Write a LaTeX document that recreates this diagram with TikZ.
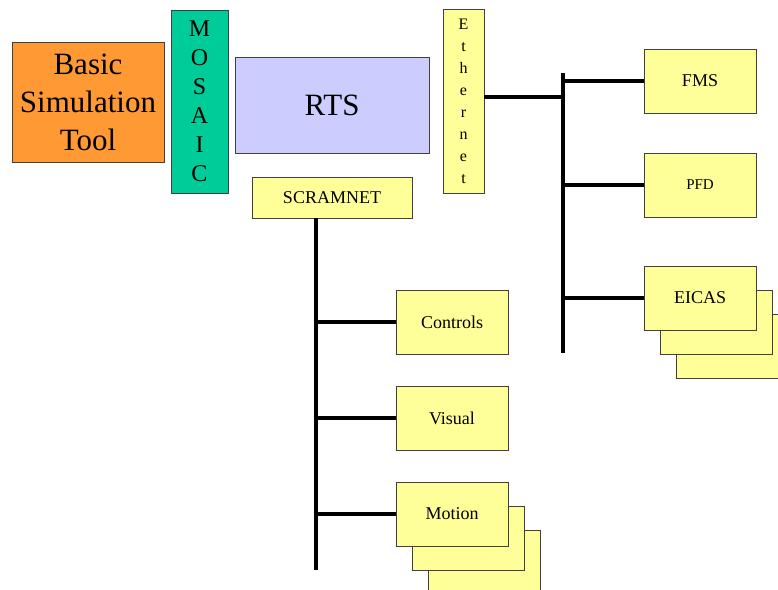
\documentclass[tikz,border=0pt]{standalone}
\usepackage{fontspec}
\setmainfont{Liberation Serif}
\usepackage{xcolor}
\usepackage{tikz}
\usetikzlibrary{positioning,calc}

\definecolor{simorange}{HTML}{FF9933}
\definecolor{mosaicgreen}{HTML}{00CC99}
\definecolor{rtsblue}{HTML}{CCCCFF}
\definecolor{unityellow}{HTML}{FFFF99}

\begin{document}
\begin{tikzpicture}[x=1pt, y=-1pt,
  box/.style={draw=black!75, line width=0.8pt, rectangle, inner sep=0pt, align=center},
  unit/.style={box, fill=unityellow, minimum width=112pt, minimum height=64pt, font=\fontsize{18}{20}\selectfont},
  bus/.style={line width=3.2pt, black}]
\useasboundingbox (0,0) rectangle (778,589);

% Simulation core
\node[box, fill=simorange, minimum width=152pt, minimum height=120pt, font=\fontsize{31}{38}\selectfont] (basic) at (88,102) {Basic\\Simulation\\Tool};
\node[box, fill=mosaicgreen, minimum width=57pt, minimum height=183pt, font=\fontsize{24}{29}\selectfont] (mosaic) at (199.5,101.5) {M\\O\\S\\A\\I\\C};
\node[box, fill=rtsblue, minimum width=194pt, minimum height=96pt, font=\fontsize{31}{36}\selectfont] (rts) at (332,105) {RTS};
\node[box, fill=unityellow, minimum width=41pt, minimum height=184pt, font=\fontsize{16}{22}\selectfont] (eth) at (463.5,101) {E\\t\\h\\e\\r\\n\\e\\t};
\node[box, fill=unityellow, minimum width=160pt, minimum height=41pt, font=\fontsize{18}{20}\selectfont] (scram) at (332,197.5) {SCRAMNET};

% SCRAMNET bus
\coordinate (sbtop) at (316,218);
\coordinate (sbbot) at (316,570);
\draw[bus] (sbtop) -- (sbbot);

\node[unit] (controls) at (452,322) {Controls};
\node[unit] (visual) at (452,418) {Visual};
\node[unit] (motion3) at (484,562) {};
\node[unit] (motion2) at (468,538) {};
\node[unit] (motion) at (452,514) {Motion};

\draw[bus] (controls.west) -- (controls.west -| sbtop);
\draw[bus] (visual.west) -- (visual.west -| sbtop);
\draw[bus] (motion.west) -- (motion.west -| sbtop);

% Ethernet bus
\coordinate (ebtop) at (563,73);
\coordinate (ebbot) at (563,353);
\draw[bus] (ebtop) -- (ebbot);
\draw[bus] ([yshift=4pt]eth.east) -- ([yshift=4pt]eth.east -| ebtop);

\node[unit] (fms) at (700,81) {FMS};
\node[unit, font=\fontsize{15}{17}\selectfont] (pfd) at (700,185) {PFD};
\node[unit] (eicas3) at (732,346) {};
\node[unit] (eicas2) at (716,322) {};
\node[unit] (eicas) at (700,298) {EICAS};

\draw[bus] (fms.west) -- (fms.west -| ebtop);
\draw[bus] (pfd.west) -- (pfd.west -| ebtop);
\draw[bus] (eicas.west) -- (eicas.west -| ebtop);
\end{tikzpicture}
\end{document}
